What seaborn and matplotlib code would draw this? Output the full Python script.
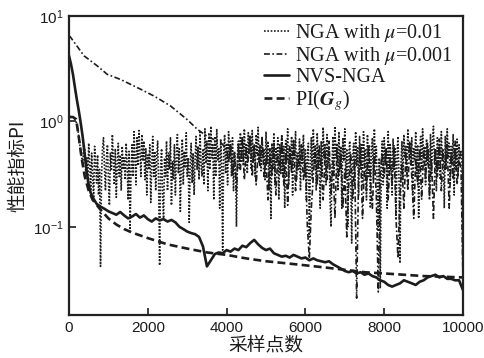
import numpy as np
import pandas as pd
import matplotlib
matplotlib.use('Agg')
import matplotlib.pyplot as plt
import seaborn as sns
from matplotlib.font_manager import FontProperties

# ---- datos ----
# NGA mu=0.01 (punteada), muestreo cada 25
x_nga1 = list(range(0, 10001, 25))
y_nga1 = [
    1.10, 1.12, 1.12, 1.10, 1.10, 1.08, 1.05, 1.00, 0.95, 0.85, 0.70, 0.60, 0.50, 0.45, 0.38, 0.60,
    # 400-1375
    0.55, 0.32, 0.45, 0.25, 0.62, 0.38, 0.22, 0.50, 0.30, 0.18, 0.58, 0.40, 0.26, 0.48, 0.20, 0.35, 0.042, 0.30, 0.55, 0.70,
    0.36, 0.22, 0.45, 0.60, 0.28, 0.16, 0.50, 0.34, 0.75, 0.42, 0.25, 0.55, 0.19, 0.38, 0.62, 0.30, 0.48, 0.22, 0.58, 0.35,
    # 1400-2375
    0.45, 0.28, 0.62, 0.40, 0.18, 0.52, 0.09, 0.35, 0.60, 0.30, 0.80, 0.45, 0.25, 0.70, 0.38, 0.82, 0.50, 0.30, 0.75, 0.42,
    0.65, 0.28, 0.55, 0.20, 0.48, 0.35, 0.60, 0.17, 0.40, 0.72, 0.30, 0.52, 0.22, 0.45, 0.65, 0.25, 0.043, 0.38, 0.55, 0.20,
    # 2400-3375
    0.12, 0.45, 0.30, 0.65, 0.22, 0.50, 0.35, 0.70, 0.16, 0.42, 0.28, 0.60, 0.20, 0.48, 0.75, 0.32, 0.55, 0.14, 0.40, 0.68,
    0.25, 0.52, 0.36, 0.78, 0.30, 0.45, 0.11, 0.38, 0.62, 0.26, 0.50, 0.20, 0.44, 0.72, 0.35, 0.58, 0.28, 0.82, 0.40, 0.30,
    # 3400-4375
    0.55, 0.25, 0.85, 0.40, 0.65, 0.22, 0.78, 0.35, 0.90, 0.45, 0.60, 0.18, 0.72, 0.30, 0.85, 0.42, 0.55, 0.15, 0.68, 0.38,
    0.06, 0.50, 0.75, 0.32, 0.62, 0.25, 0.80, 0.45, 0.58, 0.30, 0.70, 0.22, 0.52, 0.40, 0.10, 0.48, 0.65, 0.35, 0.78, 0.42,
    # 4400-5375
    0.70, 0.38, 0.85, 0.45, 0.62, 0.32, 0.78, 0.50, 0.66, 0.35, 0.82, 0.42, 0.58, 0.30, 0.75, 0.48, 0.88, 0.40, 0.60, 0.34,
    0.72, 0.45, 0.55, 0.28, 0.80, 0.40, 0.65, 0.22, 0.50, 0.12, 0.62, 0.35, 0.78, 0.25, 0.55, 0.40, 0.70, 0.18, 0.60, 0.32,
    # 5400-6375
    0.75, 0.30, 0.58, 0.15, 0.66, 0.42, 0.85, 0.25, 0.55, 0.38, 0.72, 0.20, 0.62, 0.45, 0.80, 0.28, 0.50, 0.35, 0.68, 0.22,
    0.58, 0.40, 0.75, 0.30, 0.55, 0.18, 0.45, 0.62, 0.08, 0.35, 0.70, 0.28, 0.85, 0.40, 0.60, 0.22, 0.78, 0.35, 0.52, 0.15,
    # 6400-7375
    0.65, 0.30, 0.88, 0.45, 0.60, 0.25, 0.75, 0.40, 0.55, 0.18, 0.10, 0.38, 0.72, 0.30, 0.90, 0.45, 0.62, 0.22, 0.80, 0.35,
    0.58, 0.15, 0.70, 0.42, 0.85, 0.28, 0.55, 0.10, 0.48, 0.65, 0.30, 0.07, 0.45, 0.62, 0.25, 0.80, 0.38, 0.58, 0.20, 0.72,
    # 7400-8375
    0.35, 0.62, 0.25, 0.80, 0.42, 0.55, 0.18, 0.75, 0.30, 0.60, 0.15, 0.48, 0.70, 0.28, 0.85, 0.40, 0.58, 0.22, 0.09, 0.45,
    0.026, 0.35, 0.65, 0.25, 0.70, 0.40, 0.55, 0.15, 0.80, 0.30, 0.62, 0.45, 0.20, 0.68, 0.35, 0.55, 0.12, 0.48, 0.72, 0.30,
    # 8400-9375
    0.045, 0.40, 0.65, 0.28, 0.75, 0.45, 0.58, 0.32, 0.85, 0.50, 0.62, 0.38, 0.70, 0.20, 0.55, 0.42, 0.80, 0.30, 0.60, 0.12,
    0.48, 0.72, 0.35, 0.85, 0.45, 0.58, 0.25, 0.68, 0.40, 0.55, 0.18, 0.75, 0.32, 0.62, 0.90, 0.40, 0.55, 0.22, 0.70, 0.35,
    # 9400-10000
    0.60, 0.28, 0.80, 0.42, 0.55, 0.15, 0.72, 0.35, 0.85, 0.45, 0.62, 0.25, 0.58, 0.40, 0.75, 0.20, 0.55, 0.35, 0.68, 0.30,
    0.60, 0.45, 0.52, 0.40, 0.03,
]

# NGA mu=0.001 (raya-punto): tramo suave + tramo ruidoso desde 4000
x_nga2 = [0, 40, 380, 720, 970, 1310, 1820, 2160, 2580, 3000, 3260, 3510, 3850] + list(range(4000, 10001, 50))
y_nga2 = [
    6.5, 6.3, 4.2, 3.36, 2.8, 2.5, 2.02, 1.74, 1.40, 1.04, 0.84, 0.72, 0.63,
    0.55, 0.40, 0.65, 0.30, 0.50, 0.22, 0.60, 0.35, 0.70, 0.28, 0.55, 0.42, 0.75, 0.30, 0.60, 0.25, 0.50, 0.38, 0.68, 0.30,
    0.45, 0.18, 0.55, 0.30, 0.62, 0.20, 0.48, 0.35, 0.70, 0.25, 0.50, 0.16, 0.58, 0.32, 0.66, 0.22, 0.45, 0.38, 0.60, 0.28,
    0.40, 0.10, 0.05, 0.15, 0.30, 0.55, 0.25, 0.60, 0.35, 0.18, 0.50, 0.28, 0.65, 0.20, 0.42, 0.12, 0.55, 0.30, 0.48, 0.15,
    0.35, 0.08, 0.25, 0.50, 0.18, 0.45, 0.021, 0.30, 0.55, 0.12, 0.40, 0.22, 0.60, 0.28, 0.15, 0.45, 0.20, 0.024, 0.35, 0.50,
    0.30, 0.55, 0.18, 0.45, 0.25, 0.60, 0.12, 0.05, 0.20, 0.40, 0.15, 0.50, 0.22, 0.65, 0.30, 0.12, 0.45, 0.25, 0.55, 0.18,
    0.50, 0.28, 0.62, 0.20, 0.45, 0.12, 0.55, 0.30, 0.68, 0.22, 0.48, 0.35, 0.60, 0.15, 0.50, 0.28, 0.65, 0.25, 0.45, 0.35,
    0.03,
]

# NVS-NGA (continua)
x_nvs = [0, 50, 100, 150, 200, 250, 300, 350, 400, 450, 500, 550, 600] + list(range(700, 10001, 100))
y_nvs = [
    4.2, 3.5, 2.8, 2.1, 1.6, 1.25, 0.95, 0.70, 0.48, 0.33, 0.25, 0.21, 0.19,
    0.165, 0.155, 0.148, 0.140, 0.135, 0.130, 0.138, 0.128, 0.120, 0.125, 0.132, 0.122, 0.128,
    0.118, 0.112, 0.120, 0.115, 0.118, 0.112, 0.116, 0.110, 0.100, 0.095,
    0.090, 0.087, 0.085, 0.080, 0.065, 0.042, 0.048, 0.055, 0.057, 0.056,
    0.060, 0.058, 0.062, 0.060, 0.066, 0.064, 0.070, 0.075, 0.068, 0.063,
    0.060, 0.062, 0.056, 0.054, 0.052, 0.053, 0.051, 0.054, 0.052, 0.050,
    0.051, 0.048, 0.050, 0.048, 0.047, 0.046, 0.047, 0.044, 0.042, 0.040,
    0.038, 0.037, 0.038, 0.036, 0.037, 0.035, 0.036, 0.034, 0.033, 0.031,
    0.030, 0.028, 0.027, 0.028, 0.029, 0.031, 0.030, 0.029, 0.028, 0.030,
    0.031, 0.033, 0.034, 0.035, 0.033, 0.034, 0.032, 0.032, 0.031, 0.031,
    0.025,
]

# PI(Gg) (discontinua)
x_pi = [0, 100, 180, 250, 320, 400, 500, 600, 800, 1000, 1200, 1400, 1600, 2000, 2500, 3000, 3500,
        4000, 4500, 5000, 5500, 6000, 6500, 7000, 7500, 8000, 8500, 9000, 9500, 10000]
y_pi = [1.1, 1.1, 1.05, 0.7, 0.45, 0.30, 0.22, 0.18, 0.145, 0.12, 0.105, 0.095, 0.088, 0.078, 0.068, 0.062, 0.057,
        0.054, 0.050, 0.047, 0.045, 0.043, 0.041, 0.039, 0.037, 0.036, 0.035, 0.034, 0.0335, 0.033]

labels = [r'NGA with $\mu$=0.01', r'NGA with $\mu$=0.001', 'NVS-NGA', r'PI($\mathbfit{G}_{g}$)']
ytick_vals = [0.1, 1, 10]
ytick_labels = [r'$10^{-1}$', r'$10^{0}$', r'$10^{1}$']
xtick_vals = [0, 2000, 4000, 6000, 8000, 10000]

sns.set_style('ticks')
plt.rcParams['font.family'] = ['Liberation Sans', 'DejaVu Sans']
plt.rcParams['mathtext.fontset'] = 'custom'
plt.rcParams['mathtext.rm'] = 'Liberation Sans'
plt.rcParams['mathtext.it'] = 'Liberation Sans:italic'

col = '#1c1c1c'
fig = plt.figure(figsize=(4.84, 3.58), dpi=100)
ax = fig.add_axes([0.1426, 0.120, 0.814, 0.835])

estilos = [
    (x_nga1, y_nga1, (0, (1, 1)), 1.2),
    (x_nga2, y_nga2, (0, (3.5, 1.5, 1, 1.5)), 1.2),
    (x_nvs, y_nvs, '-', 1.9),
    (x_pi, y_pi, (0, (3, 1.6)), 1.9),
]
for (xs, ys, ls, lw), lab in zip(estilos, labels):
    d = pd.DataFrame({'x': xs, 'y': ys})
    sns.lineplot(data=d, x='x', y='y', ax=ax, color=col, linestyle=ls, linewidth=lw,
                 label=lab, estimator=None, sort=False)

ax.set_yscale('log')
ax.set_xlim(0, 10000)
ax.set_ylim(0.0145, 10)
ax.set_yticks(ytick_vals)
ax.set_yticklabels(ytick_labels)
ax.yaxis.set_minor_locator(matplotlib.ticker.NullLocator())
ax.set_xticks(xtick_vals)
ax.tick_params(direction='in', length=5, width=1.2, labelsize=11, pad=4, colors=col)
for s in ax.spines.values():
    s.set_linewidth(1.6)
    s.set_color('#222222')

ax.set_xlabel('采样点数', family=['Noto Sans CJK SC', 'DejaVu Sans'], fontsize=13.5,
              labelpad=0, color='#1c1c1c')
ax.set_ylabel('性能指标PI', family=['Noto Sans CJK SC', 'DejaVu Sans'], fontsize=13.5,
              labelpad=3, color='#1c1c1c')

prop = FontProperties(family='Liberation Serif', size=14.5, math_fontfamily='stix')
leg = ax.legend(loc='upper right', bbox_to_anchor=(1.005, 1.02), frameon=False, prop=prop,
                handlelength=1.25, handletextpad=0.3, labelspacing=0.05, borderaxespad=0.2)
for t in leg.get_texts():
    t.set_color(col)

fig.savefig('out.png', dpi=100)
